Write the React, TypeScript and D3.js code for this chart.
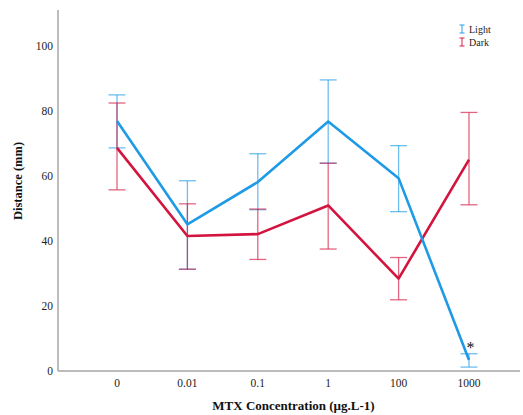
import React from "react";
import * as d3 from "d3";

const categories = ["0", "0.01", "0.1", "1", "100", "1000"];
const lightMean = [76.9, 45.1, 58.1, 76.7, 59.3, 3.4];
const lightLow = [68.6, 31.3, 49.6, 63.9, 49.0, 1.2];
const lightHigh = [84.9, 58.5, 66.8, 89.5, 69.3, 5.3];
const darkMean = [68.6, 41.5, 42.1, 50.9, 28.4, 65.0];
const darkLow = [55.7, 31.3, 34.3, 37.5, 21.9, 51.1];
const darkHigh = [82.4, 51.4, 49.8, 63.9, 34.9, 79.5];
const yTicks = [0, 20, 40, 60, 80, 100];
const seriesNames = ["Light", "Dark"];

const BLUE = "#1f9be6";
const RED = "#d3143f";

export default function App() {
  const W = 523, H = 415;
  const x = d3.scalePoint<string>().domain(categories).range([117, 469]);
  const y = d3.scaleLinear().domain([0, 111]).range([371, 10]);
  const line = d3.line<number>().x((_, i) => x(categories[i])!).y((d) => y(d));
  const series = [
    { name: seriesNames[0], color: BLUE, mean: lightMean, lo: lightLow, hi: lightHigh },
    { name: seriesNames[1], color: RED, mean: darkMean, lo: darkLow, hi: darkHigh },
  ];
  const cap = 8.5;
  return (
    <svg width={W} height={H} style={{ position: "absolute", left: 0, top: 0, fontFamily: "Liberation Serif, serif" }}>
      <rect width={W} height={H} fill="#fff" />
      {/* axes */}
      <line x1={58} x2={58} y1={10} y2={371} stroke="#a6a6a6" strokeWidth={1.5} />
      <line x1={58} x2={520} y1={371} y2={371} stroke="#a6a6a6" strokeWidth={1.5} />
      {yTicks.map((t) => (
        <text key={t} x={53} y={y(t) + 4} textAnchor="end" fontSize={11.5} fill="#222">
          {t}
        </text>
      ))}
      {categories.map((c) => (
        <text key={c} x={x(c)} y={387} textAnchor="middle" fontSize={11.5} fill="#222">
          {c}
        </text>
      ))}
      <text x={293.5} y={410} textAnchor="middle" fontSize={13} fontWeight="bold" fill="#111">
        MTX Concentration (µg.L-1)
      </text>
      <text transform={`translate(22,181) rotate(-90)`} textAnchor="middle" fontSize={12.5} fontWeight="bold" fill="#111">
        Distance (mm)
      </text>
      {/* error bars */}
      {series.map((s) => (
        <g key={s.name + "eb"} stroke={s.color} strokeOpacity={0.65} strokeWidth={1.3} fill="none">
          {categories.map((c, i) => {
            const cx = x(c)!;
            return (
              <g key={c}>
                <line x1={cx} x2={cx} y1={y(s.lo[i])} y2={y(s.hi[i])} />
                <line x1={cx - cap} x2={cx + cap} y1={y(s.lo[i])} y2={y(s.lo[i])} />
                <line x1={cx - cap} x2={cx + cap} y1={y(s.hi[i])} y2={y(s.hi[i])} />
              </g>
            );
          })}
        </g>
      ))}
      {/* lines */}
      {[...series].reverse().map((s) => (
        <path key={s.name} d={line(s.mean)!} stroke={s.color} strokeWidth={2.6} fill="none" strokeLinejoin="round" />
      ))}
      <text x={x("1000")! + 1.5} y={353} textAnchor="middle" fontSize={16} fill="#111">*</text>
      {/* legend */}
      {series.map((s, i) => (
        <g key={s.name + "lg"} transform={`translate(462,${29 + i * 13})`}>
          <g stroke={s.color} strokeOpacity={0.8} strokeWidth={1.2}>
            <line x1={0} x2={0} y1={-4} y2={4} />
            <line x1={-2.5} x2={2.5} y1={-4} y2={-4} />
            <line x1={-2.5} x2={2.5} y1={4} y2={4} />
          </g>
          <text x={7} y={3.5} fontSize={10} fill="#222">{s.name}</text>
        </g>
      ))}
    </svg>
  );
}
